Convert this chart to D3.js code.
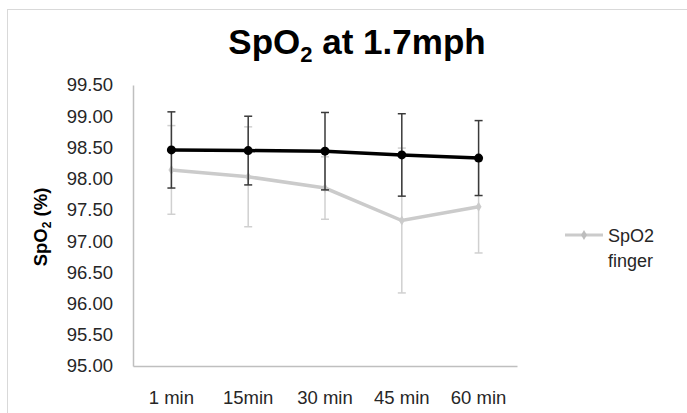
<!DOCTYPE html>
<html>
<head>
<meta charset="utf-8">
<script src="https://cdn.jsdelivr.net/npm/d3@7"></script>
<style>
  body { margin: 0; background: #fff; }
  text { font-family: "Liberation Sans", Arial, sans-serif; fill: #262626; }
</style>
</head>
<body>
<div id="chart"></div>
<script>
// chart data
const times = ["1 min", "15min", "30 min", "45 min", "60 min"];
const yTicks = [95, 95.5, 96, 96.5, 97, 97.5, 98, 98.5, 99, 99.5];

// black series (no legend label visible)
const blackMean = [98.46, 98.45, 98.44, 98.38, 98.33];
const blackErr = [0.61, 0.55, 0.62, 0.66, 0.60];

// grey series "SpO2 finger"
const greyMean = [98.14, 98.03, 97.85, 97.33, 97.55];
const greyErr = [0.71, 0.80, 0.50, 1.16, 0.74];

const svgWidth = 687;
const svgHeight = 413;

const plot = { left: 133, right: 517, top: 85, bottom: 366 };

const svg = d3.select("#chart").append("svg")
    .attr("width", svgWidth)
    .attr("height", svgHeight);

// outer frame
svg.append("rect")
    .attr("x", 7.5).attr("y", 9.5)
    .attr("width", 720).attr("height", 430)
    .attr("fill", "none")
    .attr("stroke", "#d9d9d9");

const x = d3.scaleBand()
    .domain(times)
    .range([plot.left, plot.right]);

const y = d3.scaleLinear()
    .domain([95, 99.5])
    .range([plot.bottom, plot.top]);

// axes
const yAxisG = svg.append("g")
    .attr("transform", `translate(${plot.left}, 0)`)
    .call(d3.axisLeft(y).tickValues(yTicks).tickSize(0).tickPadding(20).tickFormat(d3.format(".2f")));
yAxisG.select(".domain").attr("stroke", "#bfbfbf").attr("stroke-width", 1.5);
yAxisG.selectAll("text").style("font-size", "18.5px").attr("fill", "#262626");

const xAxisG = svg.append("g")
    .attr("transform", `translate(0, ${plot.bottom})`)
    .call(d3.axisBottom(x).tickSize(0).tickPadding(25));
xAxisG.select(".domain").attr("stroke", "#bfbfbf").attr("stroke-width", 1.5);
xAxisG.selectAll("text").style("font-size", "18.5px").attr("fill", "#262626");

const cx = d => x(d) + x.bandwidth() / 2;

// draw one series with error bars
function drawSeries(means, errs, lineColor, barColor, lineWidth, marker) {
    const g = svg.append("g");
    const pts = times.map((t, i) => ({ t, m: means[i], e: errs[i] }));

    const bars = g.selectAll(".err").data(pts).enter().append("g");
    bars.append("line")
        .attr("x1", d => cx(d.t)).attr("x2", d => cx(d.t))
        .attr("y1", d => y(d.m - d.e)).attr("y2", d => y(d.m + d.e))
        .attr("stroke", barColor).attr("stroke-width", 1.5);
    [-1, 1].forEach(s => {
        bars.append("line")
            .attr("x1", d => cx(d.t) - 4).attr("x2", d => cx(d.t) + 4)
            .attr("y1", d => y(d.m + s * d.e)).attr("y2", d => y(d.m + s * d.e))
            .attr("stroke", barColor).attr("stroke-width", 1.5);
    });

    g.append("path")
        .datum(pts)
        .attr("fill", "none")
        .attr("stroke", lineColor)
        .attr("stroke-width", lineWidth)
        .attr("d", d3.line().x(d => cx(d.t)).y(d => y(d.m)));

    if (marker === "circle") {
        g.selectAll("circle").data(pts).enter().append("circle")
            .attr("cx", d => cx(d.t)).attr("cy", d => y(d.m))
            .attr("r", 4.5).attr("fill", lineColor);
    } else {
        g.selectAll(".mk").data(pts).enter().append("path")
            .attr("transform", d => `translate(${cx(d.t)}, ${y(d.m)})`)
            .attr("d", d3.symbol(d3.symbolDiamond, 30))
            .attr("fill", lineColor);
    }
}

drawSeries(greyMean, greyErr, "#cbcbcb", "#d0d0d0", 3.5, "diamond");
drawSeries(blackMean, blackErr, "#000000", "#3a3a3a", 3.5, "circle");

// title
const title = svg.append("text")
    .attr("x", 357).attr("y", 54)
    .attr("text-anchor", "middle")
    .style("font-size", "35px")
    .style("font-weight", "bold")
    .attr("fill", "#000");
title.append("tspan").text("SpO").attr("fill", "#000");
title.append("tspan").text("2").attr("dy", 8).style("font-size", "22px").attr("fill", "#000");
title.append("tspan").text(" at 1.7mph").attr("dy", -8).attr("fill", "#000");

// y axis label
const yLabel = svg.append("text")
    .attr("transform", "translate(47, 227) rotate(-90)")
    .attr("text-anchor", "middle")
    .style("font-size", "18.5px")
    .style("font-weight", "bold")
    .attr("fill", "#000");
yLabel.append("tspan").text("SpO").attr("fill", "#000");
yLabel.append("tspan").text("2").attr("dy", 4).style("font-size", "12px").attr("fill", "#000");
yLabel.append("tspan").text(" (%)").attr("dy", -4).attr("fill", "#000");

// legend
const legend = svg.append("g");
legend.append("line")
    .attr("x1", 565).attr("x2", 603).attr("y1", 235).attr("y2", 235)
    .attr("stroke", "#cbcbcb").attr("stroke-width", 3);
legend.append("path")
    .attr("transform", "translate(584, 235)")
    .attr("d", d3.symbol(d3.symbolDiamond, 30))
    .attr("fill", "#bdbdbd");
legend.append("text").attr("x", 608).attr("y", 242).style("font-size", "18px").text("SpO2");
legend.append("text").attr("x", 608).attr("y", 267).style("font-size", "18px").text("finger");
</script>
</body>
</html>
